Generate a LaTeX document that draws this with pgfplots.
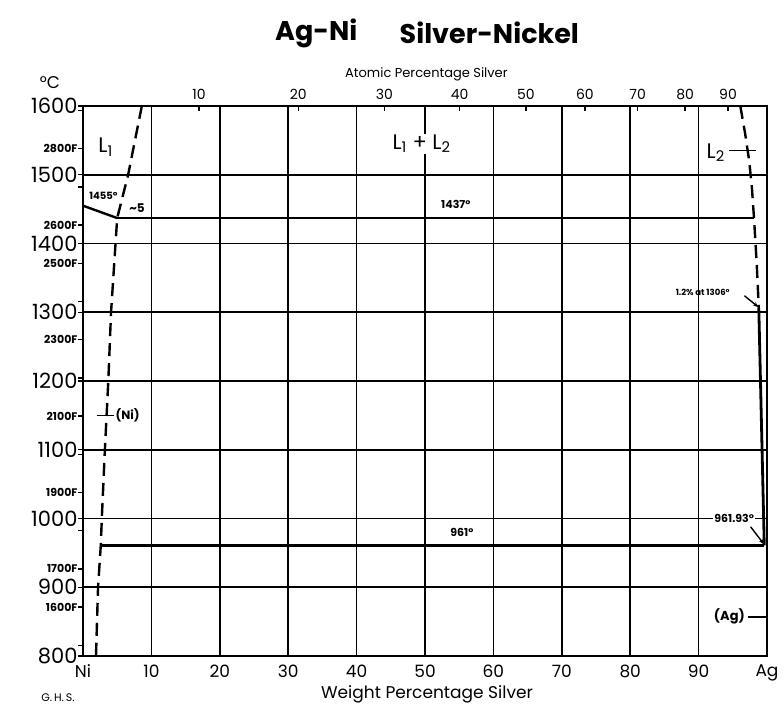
\documentclass[border=0pt]{standalone}
\usepackage{fontspec}
\setmainfont{Poppins}
\usepackage{pgfplots}
\pgfplotsset{compat=1.18}
\usetikzlibrary{arrows.meta}
\newcommand{\fs}[1]{\fontsize{#1}{#1}\selectfont}
\newcommand{\F}[1]{{\bfseries\fs{11}#1F}}
\begin{document}
\begin{tikzpicture}
% ---------- top axis: atomic percentage silver ----------
\begin{axis}[
  scale only axis, width=684pt, height=550pt,
  xmin=0, xmax=100, ymin=800, ymax=1600,
  axis x line*=top, axis y line=none,
  axis line style={draw=none},
  xtick={16.96,31.48,44.06,55.06,64.76,73.38,81.09,88.03,94.30},
  xticklabels={10,20,30,40,50,60,70,80,90},
  tick align=inside, major tick length=5pt,
  xtick style={black, line width=1.4pt},
  x tick label style={font=\fs{14}, yshift=3pt},
]
\addplot[draw=none] coordinates {(0,800) (100,1600)};
\end{axis}
% ---------- main axis ----------
\begin{axis}[
  scale only axis, width=684pt, height=550pt,
  xmin=0, xmax=100, ymin=800, ymax=1600,
  xtick={0,10,...,100},
  xticklabels={Ni,10,20,30,40,50,60,70,80,90,Ag},
  ytick={800,900,...,1600},
  yticklabels={800,900,1000,1100,1200,1300,1400,1500,1600},
  extra y ticks={815.6,871.1,926.7,982.2,1037.8,1093.3,1148.9,1204.4,1260,1315.6,1371.1,1426.7,1482.2,1537.8,1593.3},
  extra y tick labels={,\F{1600},\F{1700},,\F{1900},,\F{2100},,\F{2300},,\F{2500},\F{2600},,\F{2800},},
  extra y tick style={grid=none},
  grid=major,
  major grid style={black, line width=1.6pt},
  axis line style={black, line width=2.5pt},
  tick pos=left, tick align=outside,
  major tick length=5pt,
  xtick style={draw=none},
  ytick style={black, line width=1.4pt},
  x tick label style={font=\fs{17}},
  y tick label style={font=\fs{21}, xshift=3pt},
  clip=false,
]
% Ni-rich liquid boundary (L1) and (Ni) solvus -- dashed
\addplot[black, line width=2.4pt, dash pattern=on 13pt off 7pt] coordinates {
  (8.6,1600) (6.6,1500) (5.0,1437) (4.1,1300) (3.7,1200) (3.2,1100)
  (2.75,1000) (2.6,961) (2.2,900) (1.9,800)};
% Ag-rich liquid boundary (L2) -- dashed
\addplot[black, line width=2.4pt, dash pattern=on 13pt off 7pt] coordinates {
  (96.1,1600) (96.8,1560) (97.4,1520) (97.8,1480) (98.1,1437) (98.5,1370) (98.8,1306)};
% melting of Ni to monotectic
\addplot[black, line width=2.4pt] coordinates {(0,1455) (5.0,1437)};
% monotectic line 1437
\addplot[black, line width=2.4pt] coordinates {(5.0,1437) (98.1,1437)};
% eutectic line 961
\addplot[black, line width=2.4pt] coordinates {(2.6,961) (99.6,961)};
% Ag liquidus
\addplot[black, line width=2.8pt] coordinates {(98.8,1306) (99.6,961)};
% leaders
\addplot[black, line width=1.4pt] coordinates {(2.1,1150) (4.5,1150)};
\addplot[black, line width=1.4pt] coordinates {(94.5,1535) (98.4,1535)};
\addplot[black, line width=1.4pt] coordinates {(97.2,857) (100,857)};
\addplot[black, line width=1.4pt, -{Stealth[length=6pt,width=4pt]}] coordinates {(96.7,1324) (98.8,1307)};
\addplot[black, line width=1.4pt, -{Stealth[length=6pt,width=4pt]}] coordinates {(97.6,988) (99.6,962)};
% labels
\node[font=\fs{21}] at (axis cs:3.3,1540) {L\textsubscript{1}};
\node[font=\fs{21}, fill=white, inner sep=1pt] at (axis cs:49.5,1545) {L\textsubscript{1} + L\textsubscript{2}};
\node[font=\fs{21}] at (axis cs:92.5,1532) {L\textsubscript{2}};
\node[font=\bfseries\fs{10}] at (axis cs:3.0,1470) {1455°};
\node[font=\bfseries\fs{12}] at (axis cs:7.9,1452) {\textasciitilde5};
\node[font=\bfseries\fs{11}] at (axis cs:54.5,1457) {1437°};
\node[font=\bfseries\fs{11}] at (axis cs:55.4,980) {961°};
\node[font=\bfseries\fs{11}, fill=white, inner sep=1.5pt] at (axis cs:95.2,1000) {961.93°};
\node[font=\bfseries\fs{8.5}] at (axis cs:90.6,1329) {1.2\% at 1306°};
\node[font=\bfseries\fs{12}, anchor=west, inner sep=1pt] at (axis cs:4.6,1150) {(Ni)};
\node[font=\bfseries\fs{13}] at (axis cs:94.5,857) {(Ag)};
% outer texts
\node[font=\fs{17}] at (axis cs:0,1600) [xshift=-33pt, yshift=23pt] {°C};
\node[font=\fs{11}] at (axis cs:0,800) [xshift=-25pt, yshift=-42pt] {G.\,H.\,S.};
\node[font=\fs{13}] at (axis cs:50.2,1600) [yshift=32pt] {Atomic Percentage Silver};
\node[font=\fs{17}] at (axis cs:50.3,800) [yshift=-38pt] {Weight Percentage Silver};
\node[font=\bfseries\fs{27}] at (axis cs:34.1,1600) [yshift=73pt] {Ag-Ni};
\node[font=\bfseries\fs{27}] at (axis cs:59.4,1600) [yshift=73pt] {Silver-Nickel};
\end{axis}
\pgfresetboundingbox
\path[use as bounding box] (-83pt,-62pt) rectangle (701pt,656pt);
\end{tikzpicture}
\end{document}
